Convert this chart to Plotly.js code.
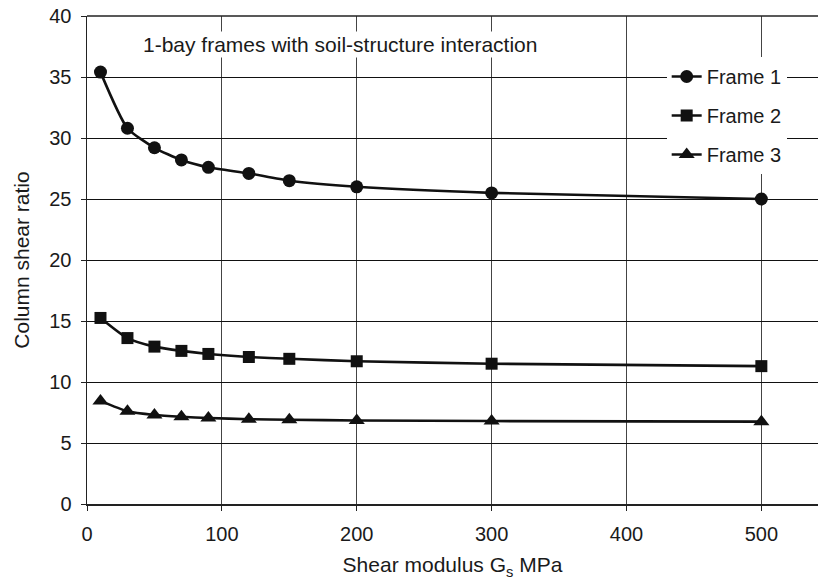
<!DOCTYPE html>
<html><head><meta charset="utf-8">
<script src="https://cdn.plot.ly/plotly-3.0.1.min.js"></script>
<style>html,body{margin:0;padding:0;background:#fff;}</style>
</head><body>
<div id="chart" style="width:819px;height:582px;"></div>
<script>
const gsValues = [10, 30, 50, 70, 90, 120, 150, 200, 300, 500];
const frame1 = [35.4, 30.8, 29.2, 28.2, 27.6, 27.1, 26.5, 26.0, 25.5, 25.0];
const frame2 = [15.25, 13.6, 12.9, 12.55, 12.3, 12.05, 11.9, 11.7, 11.5, 11.3];
const frame3 = [8.45, 7.6, 7.3, 7.15, 7.05, 6.95, 6.9, 6.85, 6.8, 6.75];
const seriesNames = ['Frame 1', 'Frame 2', 'Frame 3'];
const xTicks = [0, 100, 200, 300, 400, 500];
const yTicks = [0, 5, 10, 15, 20, 25, 30, 35, 40];

const font = 'Liberation Sans, Arial, sans-serif';
const symbols = ['circle', 'square', 'triangle-up'];
const sizes = [13, 12, 14];
const data = [frame1, frame2, frame3].map((ys, i) => ({
  x: gsValues, y: ys, name: seriesNames[i], type: 'scatter', mode: 'lines+markers',
  legendgroup: 'g' + i,
  line: {color: '#111', width: 2.6, shape: 'spline', smoothing: 0.6},
  marker: {symbol: symbols[i], size: sizes[i], color: '#111'},
  cliponaxis: false
}));

const layout = {
  width: 819, height: 582,
  margin: {l: 87, r: 1, t: 16, b: 78},
  paper_bgcolor: '#fff', plot_bgcolor: '#fff',
  font: {family: font, size: 20, color: '#1a1a1a'},
  showlegend: true,
  legend: {
    x: 0.793, y: 0.916, xanchor: 'left', yanchor: 'top',
    bgcolor: '#fff', borderwidth: 0,
    traceorder: 'grouped', tracegroupgap: 10,
    font: {family: font, size: 20, color: '#1a1a1a'}
  },
  xaxis: {
    range: [0, 542], tickvals: xTicks, ticktext: xTicks.map(String),
    showgrid: true, gridcolor: '#444', gridwidth: 1,
    zeroline: false, showline: true, linecolor: '#222', linewidth: 1.5,
    ticks: 'outside', ticklen: 5, tickcolor: '#222', ticklabelstandoff: 6,
    tickfont: {family: font, size: 20, color: '#1a1a1a'},
    title: {text: 'Shear modulus G<sub>s</sub> MPa', font: {family: font, size: 21, color: '#1a1a1a'}, standoff: 14}
  },
  yaxis: {
    range: [0, 40], tickvals: yTicks, ticktext: yTicks.map(String),
    showgrid: true, gridcolor: '#111', gridwidth: 1,
    zeroline: false, showline: true, linecolor: '#222', linewidth: 1.5,
    ticks: 'outside', ticklen: 5, tickcolor: '#222', ticklabelstandoff: 5,
    tickfont: {family: font, size: 20, color: '#1a1a1a'},
    title: {text: 'Column shear ratio', font: {family: font, size: 21, color: '#1a1a1a'}, standoff: 14}
  },
  shapes: [
    {type: 'line', xref: 'paper', yref: 'paper', x0: 0, x1: 1, y0: 1, y1: 1, line: {color: '#222', width: 1.5}}
  ],
  annotations: [{
    text: '1-bay frames with soil-structure interaction',
    xref: 'paper', yref: 'paper', x: 0.074, y: 0.941, xanchor: 'left', yanchor: 'middle',
    showarrow: false, bgcolor: '#fff', font: {family: font, size: 21, color: '#1a1a1a'}
  }]
};

Plotly.newPlot('chart', data, layout, {displayModeBar: false, staticPlot: true});
</script>
</body></html>
